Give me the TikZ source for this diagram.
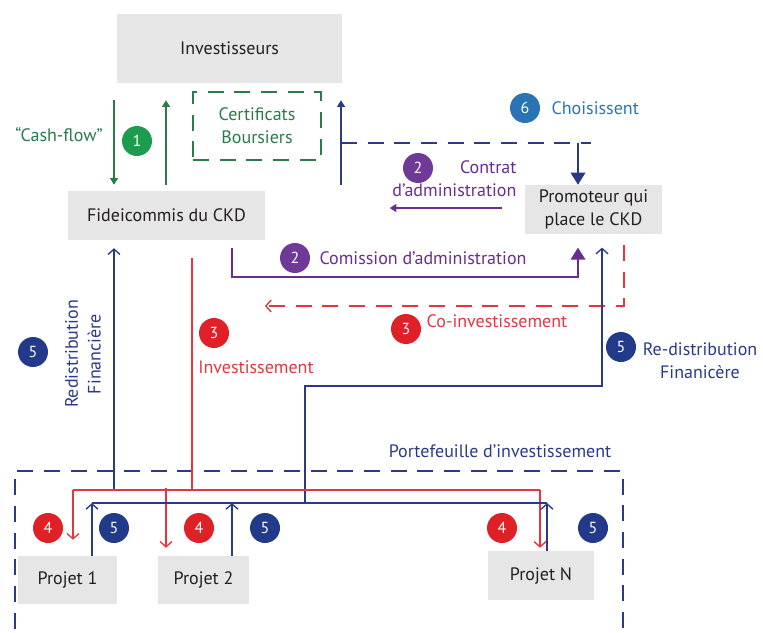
\documentclass[tikz,border=0pt]{standalone}
\usepackage{fontspec}
\setmainfont{PT Sans}
\usetikzlibrary{arrows.meta}
\definecolor{boxgray}{HTML}{E6E6E6}
\definecolor{ckdgreen}{HTML}{2A7A4B}
\definecolor{ckdgreenfill}{HTML}{1B9C4E}
\definecolor{ckdnavy}{HTML}{2B3A87}
\definecolor{ckdnavyfill}{HTML}{213B8A}
\definecolor{ckdpurple}{HTML}{6A2C91}
\definecolor{ckdpurplefill}{HTML}{6F3A97}
\definecolor{ckdred}{HTML}{E2383D}
\definecolor{ckdredfill}{HTML}{E02027}
\definecolor{ckdblue}{HTML}{2A74B4}
\definecolor{darktext}{HTML}{231F20}

\begin{document}
\begin{tikzpicture}[
    x=0.75pt,y=-0.75pt,
    font=\fontsize{13.5pt}{17pt}\selectfont,
    ckdbox/.style={fill=boxgray,text=darktext,align=center,inner sep=0pt},
    num/.style={circle,fill=#1,text=white,minimum size=22.5pt,inner sep=0pt,
                font=\fontsize{12pt}{12pt}\selectfont},
    flow/.style={line width=1pt,#1},
    dashpat/.style={dash pattern=on 12pt off 8pt},
    tri/.style={-{Triangle[length=5pt,width=6pt]}},
    bigtri/.style={-{Triangle[length=9pt,width=11pt]}},
    barb/.style={-{Straight Barb[length=4pt,width=9pt]}},
    lbl/.style={align=center,inner sep=1pt}
  ]
    \useasboundingbox (0,0) rectangle (763,632);

    \node[ckdbox,minimum width=168.75pt,minimum height=51.75pt] (inv) at (229.5,48.5) {Investisseurs};
    \node[draw=ckdgreen,line width=1pt,dashpat,text=ckdgreen,align=center,
          minimum width=96pt,minimum height=51pt] (cert) at (257,126) {Certificats\\Boursiers};
    \node[ckdbox,minimum width=147.75pt,minimum height=36.75pt] (fid) at (166.5,215.5) {Fideicommis du CKD};
    \node[ckdbox,minimum width=102.75pt,minimum height=36.75pt] (prom) at (593.5,209.5) {Promoteur qui\\place le CKD};
    \node[draw=ckdnavy,line width=1pt,dashpat,minimum width=456pt,minimum height=141.75pt] (port) at (319,565.5) {};
    \node[ckdbox,minimum width=74.25pt,minimum height=36pt] (p1) at (67.5,580) {Projet 1};
    \node[ckdbox,minimum width=68.25pt,minimum height=36pt] (p2) at (203.5,580) {Projet 2};
    \node[ckdbox,minimum width=79.5pt,minimum height=36.75pt] (pn) at (541,575.5) {Projet N};

    \coordinate (xcash) at (114,0);
    \coordinate (xcert) at (166,0);
    \coordinate (ch) at (341,185);
    \coordinate (chk) at (341,143);
    \coordinate (xprom) at (578,143);
    \coordinate (xcom) at (232,277);
    \coordinate (xcomr) at (578,277);
    \coordinate (xco) at (624,306);
    \coordinate (xcoe) at (265,306);
    \coordinate (rb) at (305,503);
    \coordinate (rt) at (305,386);
    \coordinate (rr) at (602,386);
    \coordinate (ib) at (192,490);
    \coordinate (lb) at (114,490);
    \coordinate (rbl) at (73,490);
    \coordinate (rb2) at (166,488);
    \coordinate (rbr) at (540,490);
    \coordinate (nbl) at (92,503);
    \coordinate (nb2) at (232,503);
    \coordinate (nbr) at (547,503);

    \draw[flow=ckdgreen,tri,shorten <=12.75pt,shorten >=4.5pt] (inv.south -| xcash) -- (fid.north -| xcash);
    \draw[flow=ckdgreen,tri,shorten <=4.5pt,shorten >=12.75pt] (fid.north -| xcert) -- (inv.south -| xcert);
    \draw[flow=ckdnavy,tri,shorten >=12.75pt] (ch) -- (inv.south -| ch);
    \draw[flow=ckdnavy,dashpat] (chk) -- ++(250,0);
    \draw[flow=ckdnavy,bigtri] (xprom) -- (prom.north -| xprom);
    \draw[flow=ckdpurple,tri] ([xshift=-17.25pt,yshift=1.1pt]prom.west) -- ++(-112,0);
    \draw[flow=ckdpurple,bigtri,shorten <=6pt,shorten >=10pt] (fid.south -| xcom) -- (xcom) -- (xcomr) -- (prom.south -| xcomr);
    \draw[flow=ckdred,dashpat,barb,shorten <=8pt] (prom.south -| xco) -- (xco) -- (xcoe);
    \draw[flow=ckdnavy,barb,shorten >=10pt] (rb) -- (rt) -- (rr) -- (prom.south -| rr);
    \draw[flow=ckdred,shorten <=13.5pt] (fid.south -| ib) -- (ib);
    \draw[flow=ckdnavy,barb,shorten >=6pt] (lb) -- (fid.south -| lb);

    \draw[flow=ckdred] (rbl) -- (rbr);
    \draw[flow=ckdred,barb,shorten >=12pt] (rbl) -- (p1.north -| rbl);
    \draw[flow=ckdred,barb,shorten >=6pt] (rb2) -- (p2.north -| rb2);
    \draw[flow=ckdred,barb,shorten >=2.25pt] (rbr) -- (pn.north -| rbr);
    \draw[flow=ckdnavy] (nbl) -- (nbr);
    \draw[flow=ckdnavy,barb] (p1.north -| nbl) -- (nbl);
    \draw[flow=ckdnavy,barb] (p2.north -| nb2) -- (nb2);
    \draw[flow=ckdnavy,barb] (pn.north -| nbr) -- (nbr);

    \node[lbl,text=ckdgreen] (lcash) at (59,135) {“Cash-flow”};
    \node[num=ckdgreenfill] (n1) at (137,141) {1};
    \node[num=ckdblue] (n6) at (525,108) {6};
    \node[lbl,text=ckdblue,anchor=west] (lchoix) at (550,108) {Choisissent};
    \node[num=ckdpurplefill] (n2a) at (418,168) {2};
    \node[lbl,text=ckdpurple,align=right,anchor=east] (lcontrat) at (518,179) {Contrat\hspace{5pt}\\d’administration};
    \node[num=ckdpurplefill] (n2b) at (295,258) {2};
    \node[lbl,text=ckdpurple] (lcom) at (423,258) {Comission d’administration};
    \node[num=ckdredfill] (n3a) at (406,329) {3};
    \node[lbl,text=ckdred] (lcoinv) at (497,321) {Co-investissement};
    \node[num=ckdredfill] (n3b) at (214,333) {3};
    \node[lbl,text=ckdred] (linv) at (256,367) {Investissement};
    \node[num=ckdnavyfill] (n5r) at (621,347) {5};
    \node[lbl,text=ckdnavy] (lredr) at (700,361) {Re-distribution\\Finanicère};
    \node[num=ckdnavyfill] (n5l) at (33,352) {5};
    \node[lbl,text=ckdnavy,rotate=90] (lredl) at (83,354) {Redistribution\\Financière};
    \node[lbl,text=ckdnavy] (lport) at (500,451) {Portefeuille d’investissement};

    \node[num=ckdredfill] (n4a) at (48,528) {4};
    \node[num=ckdnavyfill] (n5a) at (114,528) {5};
    \node[num=ckdredfill] (n4b) at (199,528) {4};
    \node[num=ckdnavyfill] (n5b) at (265,528) {5};
    \node[num=ckdredfill] (n4c) at (502,528) {4};
    \node[num=ckdnavyfill] (n5c) at (593,528) {5};
  \end{tikzpicture}
\end{document}
